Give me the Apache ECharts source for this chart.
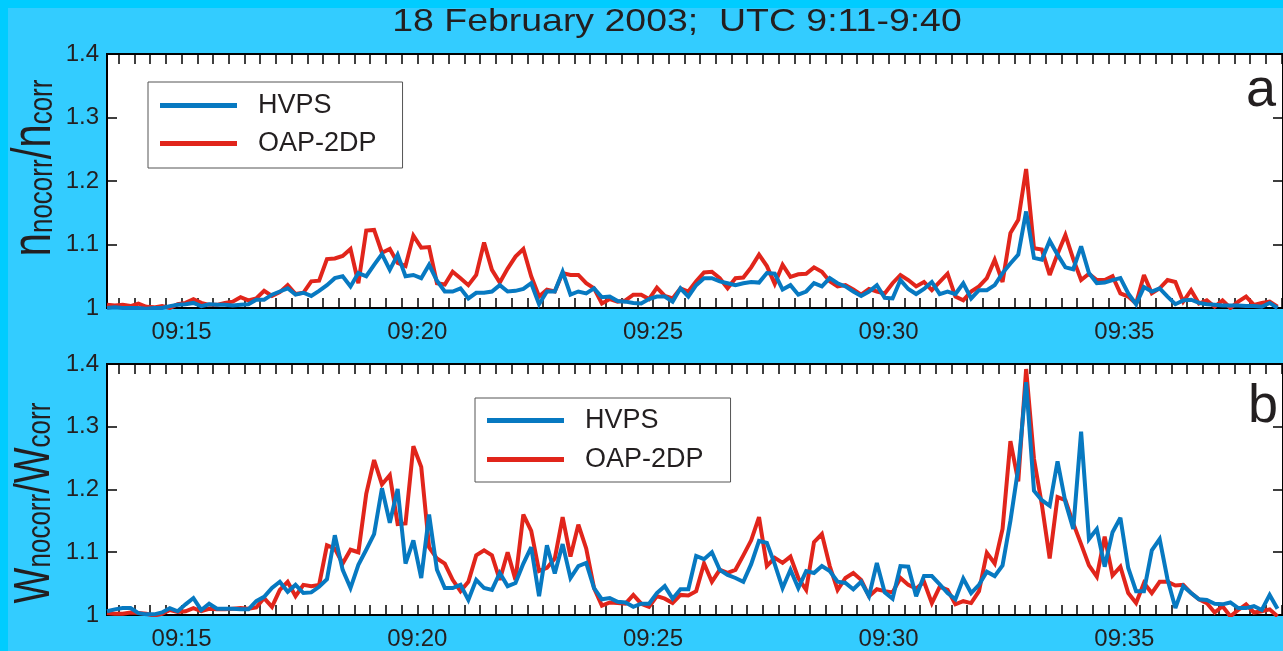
<!DOCTYPE html>
<html>
<head>
<meta charset="utf-8">
<script src="https://cdn.jsdelivr.net/npm/echarts@6/dist/echarts.min.js"></script>
<style>
  html, body { margin: 0; padding: 0; background: #00ccff; overflow: hidden; }
  #chart { position: absolute; left: 8px; top: 8px; width: 1275px; height: 643px; background: #33ccff; }
</style>
</head>
<body>
<div id="chart"></div>
<script>
// Sampling: one value every 10 s, first sample at 09:13:25 (seconds after 09:00)
const startSec = 805;
const stepSec = 10;

// Panel a: number concentration ratio n_nocorr / n_corr
const oapN = [
  1.005, 1.004, 1.005, 1.003, 1.007, 1.002, 1.001, 1.003, 1.000, 1.006,
  1.008, 1.014, 1.008, 1.005, 1.005, 1.008, 1.010, 1.017, 1.012, 1.015,
  1.027, 1.019, 1.025, 1.036, 1.022, 1.024, 1.042, 1.043, 1.077, 1.078,
  1.082, 1.093, 1.039, 1.122, 1.123, 1.087, 1.093, 1.071, 1.066, 1.114,
  1.095, 1.096, 1.039, 1.037, 1.057, 1.047, 1.036, 1.052, 1.103, 1.060,
  1.040, 1.062, 1.081, 1.093, 1.050, 1.018, 1.029, 1.026, 1.055, 1.052,
  1.052, 1.039, 1.031, 1.007, 1.014, 1.010, 1.012, 1.021, 1.021, 1.014,
  1.032, 1.019, 1.015, 1.031, 1.026, 1.042, 1.056, 1.057, 1.047, 1.031,
  1.047, 1.048, 1.064, 1.084, 1.066, 1.038, 1.068, 1.049, 1.053, 1.054,
  1.064, 1.057, 1.042, 1.034, 1.036, 1.029, 1.021, 1.030, 1.026, 1.023,
  1.039, 1.052, 1.044, 1.034, 1.041, 1.028, 1.041, 1.054, 1.018, 1.012,
  1.026, 1.034, 1.047, 1.076, 1.041, 1.118, 1.139, 1.219, 1.094, 1.092,
  1.052, 1.085, 1.115, 1.077, 1.044, 1.054, 1.044, 1.044, 1.050, 1.023,
  1.018, 1.007, 1.052, 1.023, 1.031, 1.044, 1.041, 1.010, 1.028, 1.007,
  1.012, 1.002, 1.012, 1.000, 1.010, 1.018, 1.005, 1.008, 1.010, 1.002
];
const hvpsN = [
  1.000, 1.001, 1.000, 1.000, 1.000, 0.999, 1.000, 1.000, 1.003, 1.005,
  1.006, 1.008, 1.003, 1.006, 1.005, 1.005, 1.004, 1.005, 1.006, 1.013,
  1.013, 1.021, 1.026, 1.031, 1.021, 1.024, 1.019, 1.027, 1.036, 1.047,
  1.050, 1.034, 1.055, 1.050, 1.068, 1.085, 1.060, 1.084, 1.050, 1.052,
  1.047, 1.068, 1.043, 1.026, 1.026, 1.031, 1.015, 1.024, 1.024, 1.026,
  1.036, 1.026, 1.027, 1.030, 1.039, 1.006, 1.026, 1.026, 1.057, 1.021,
  1.026, 1.023, 1.031, 1.017, 1.018, 1.011, 1.010, 1.008, 1.007, 1.014,
  1.018, 1.018, 1.010, 1.031, 1.018, 1.036, 1.047, 1.047, 1.042, 1.039,
  1.036, 1.039, 1.041, 1.040, 1.055, 1.054, 1.029, 1.036, 1.021, 1.026,
  1.039, 1.034, 1.047, 1.039, 1.034, 1.026, 1.019, 1.026, 1.036, 1.016,
  1.015, 1.044, 1.030, 1.022, 1.030, 1.041, 1.022, 1.026, 1.022, 1.039,
  1.015, 1.028, 1.028, 1.036, 1.055, 1.070, 1.084, 1.152, 1.079, 1.076,
  1.106, 1.084, 1.064, 1.061, 1.097, 1.055, 1.039, 1.040, 1.044, 1.047,
  1.023, 1.006, 1.033, 1.026, 1.031, 1.018, 1.006, 1.012, 1.013, 1.008,
  1.006, 1.005, 1.004, 1.004, 1.004, 1.003, 1.003, 1.002, 1.008, 1.000
];

// Panel b: water content ratio W_nocorr / W_corr
const oapW = [
  1.003, 1.002, 1.002, 1.004, 1.003, 1.002, 0.999, 1.002, 1.008, 1.005,
  1.006, 1.011, 1.006, 1.010, 1.009, 1.009, 1.010, 1.011, 1.010, 1.012,
  1.027, 1.013, 1.040, 1.053, 1.030, 1.048, 1.046, 1.048, 1.111, 1.106,
  1.082, 1.104, 1.100, 1.193, 1.247, 1.208, 1.223, 1.145, 1.146, 1.269,
  1.236, 1.108, 1.090, 1.082, 1.056, 1.038, 1.053, 1.095, 1.103, 1.095,
  1.056, 1.100, 1.056, 1.160, 1.134, 1.070, 1.075, 1.090, 1.156, 1.093,
  1.144, 1.106, 1.043, 1.015, 1.020, 1.019, 1.018, 1.032, 1.018, 1.013,
  1.030, 1.026, 1.019, 1.032, 1.031, 1.038, 1.082, 1.053, 1.072, 1.067,
  1.072, 1.095, 1.119, 1.156, 1.078, 1.091, 1.083, 1.093, 1.059, 1.040,
  1.116, 1.129, 1.078, 1.040, 1.059, 1.067, 1.056, 1.030, 1.041, 1.038,
  1.036, 1.059, 1.048, 1.042, 1.053, 1.019, 1.045, 1.040, 1.017, 1.022,
  1.019, 1.038, 1.099, 1.082, 1.137, 1.277, 1.213, 1.392, 1.249, 1.176,
  1.090, 1.188, 1.183, 1.146, 1.113, 1.079, 1.061, 1.125, 1.063, 1.077,
  1.035, 1.019, 1.051, 1.035, 1.053, 1.053, 1.047, 1.048, 1.035, 1.025,
  1.019, 1.004, 1.014, 0.998, 1.008, 1.017, 1.004, 1.006, 1.009, 0.998
];
const hvpsW = [
  1.006, 1.009, 1.011, 1.011, 1.003, 1.001, 1.001, 1.004, 1.011, 1.006,
  1.017, 1.027, 1.008, 1.018, 1.010, 1.010, 1.010, 1.009, 1.009, 1.022,
  1.029, 1.043, 1.053, 1.037, 1.048, 1.035, 1.036, 1.045, 1.057, 1.127,
  1.072, 1.043, 1.080, 1.104, 1.129, 1.202, 1.147, 1.201, 1.082, 1.119,
  1.059, 1.160, 1.072, 1.043, 1.043, 1.048, 1.024, 1.056, 1.043, 1.040,
  1.067, 1.046, 1.051, 1.082, 1.108, 1.030, 1.111, 1.066, 1.113, 1.059,
  1.078, 1.083, 1.043, 1.025, 1.027, 1.021, 1.020, 1.013, 1.018, 1.018,
  1.035, 1.046, 1.026, 1.041, 1.041, 1.094, 1.089, 1.100, 1.072, 1.064,
  1.059, 1.053, 1.081, 1.118, 1.115, 1.081, 1.043, 1.072, 1.043, 1.070,
  1.067, 1.078, 1.070, 1.053, 1.051, 1.041, 1.053, 1.030, 1.083, 1.036,
  1.026, 1.078, 1.077, 1.030, 1.062, 1.062, 1.049, 1.035, 1.025, 1.058,
  1.035, 1.048, 1.069, 1.062, 1.079, 1.150, 1.234, 1.371, 1.198, 1.183,
  1.174, 1.245, 1.180, 1.137, 1.292, 1.121, 1.137, 1.077, 1.132, 1.155,
  1.075, 1.038, 1.038, 1.103, 1.121, 1.057, 1.011, 1.046, 1.035, 1.025,
  1.024, 1.018, 1.017, 1.020, 1.011, 1.011, 1.014, 1.008, 1.032, 1.010
];

// Time axis labels (seconds after 09:00) and their text
const xLabelSeconds = [900, 1200, 1500, 1800, 2100];
const xLabelTexts = ['09:15', '09:20', '09:25', '09:30', '09:35'];
const xMin = 805, xMax = 2302;
const minorTickStep = 20;

const seriesNames = ['HVPS', 'OAP-2DP'];
const titleText = '18 February 2003;  UTC 9:11-9:40';

const FONT = "'Liberation Sans', Arial, Helvetica, sans-serif";
const INK = '#231f20';
const BLUE = '#0779c1';
const RED = '#e1251b';

const toPairs = arr => arr.map((v, i) => [startSec + i * stepSec, v]);
const minorTicks = [];
for (let s = Math.ceil(xMin / minorTickStep) * minorTickStep; s <= xMax; s += minorTickStep) minorTicks.push(s);

const grids = [
  { left: 99, top: 46, width: 1183, height: 254 },
  { left: 99, top: 356, width: 1183, height: 255 }
];

function xAxes(gi) {
  const tick = { show: true, inside: true, length: 10, customValues: minorTicks,
                 lineStyle: { color: '#000', width: 1.5 } };
  return [
    { type: 'value', gridIndex: gi, position: 'bottom', min: xMin, max: xMax,
      axisLine: { show: false }, splitLine: { show: false }, axisTick: tick,
      axisLabel: { customValues: xLabelSeconds, fontSize: 24, color: INK, fontFamily: FONT, margin: 12,
                   formatter: v => xLabelTexts[xLabelSeconds.indexOf(v)] || '' } },
    { type: 'value', gridIndex: gi, position: 'top', min: xMin, max: xMax,
      axisLine: { show: false }, splitLine: { show: false }, axisTick: tick,
      axisLabel: { show: false } }
  ];
}
function yAxes(gi) {
  const tick = { show: true, inside: true, length: 10, lineStyle: { color: '#000', width: 1.5 } };
  return [
    { type: 'value', gridIndex: gi, position: 'left', min: 1, max: 1.4, interval: 0.1,
      axisLine: { show: false }, splitLine: { show: false }, axisTick: tick,
      axisLabel: { fontSize: 24, color: INK, fontFamily: FONT, margin: 8,
                   formatter: v => (Math.abs(v - 1) < 1e-9 ? '1' : v.toFixed(1)) } },
    { type: 'value', gridIndex: gi, position: 'right', min: 1, max: 1.4, interval: 0.1,
      axisLine: { show: false }, splitLine: { show: false }, axisTick: tick,
      axisLabel: { show: false } }
  ];
}
function lineSeries(name, data, color, gi) {
  return {
    name, type: 'line', xAxisIndex: gi * 2, yAxisIndex: gi * 2,
    data: toPairs(data), showSymbol: false, symbol: 'none',
    itemStyle: { color }, lineStyle: { color, width: 4, join: 'miter', miterLimit: 3 },
    emphasis: { disabled: true }
  };
}
function legendBox(left, top, padding, gap) {
  return {
    data: seriesNames, orient: 'vertical', left, top, padding, itemGap: gap,
    itemWidth: 77, itemHeight: 5, icon: 'rect', selectedMode: false,
    backgroundColor: '#fff', borderColor: '#555', borderWidth: 1, borderRadius: 0,
    textStyle: { fontSize: 27, lineHeight: 27, color: INK, fontFamily: FONT, padding: [0, 0, 0, 16] }
  };
}
function axisTitle(x, y, main1, sub1, main2, sub2, mainSize) {
  return {
    type: 'text', x, y, rotation: Math.PI / 2, scaleY: 1.3, z: 10,
    style: {
      text: `{m|${main1}}{s|${sub1}}{m|${main2}}{s|${sub2}}`,
      align: 'center', verticalAlign: 'middle',
      rich: {
        m: { fontSize: mainSize, fontFamily: FONT, fill: INK, verticalAlign: 'bottom' },
        s: { fontSize: 26, fontFamily: FONT, fill: INK, verticalAlign: 'bottom', padding: [0, 0, 2, 0] }
      }
    }
  };
}

const chart = echarts.init(document.getElementById('chart'), null, { renderer: 'canvas' });
chart.setOption({
  animation: false,
  grid: grids.map(g => Object.assign({ show: true, backgroundColor: '#fff', borderColor: '#000', borderWidth: 2 }, g)),
  xAxis: [...xAxes(0), ...xAxes(1)],
  yAxis: [...yAxes(0), ...yAxes(1)],
  legend: [
    legendBox(140, 74, [10, 26, 11, 12], 11),
    legendBox(467, 390, [9, 27, 9, 12], 12)
  ],
  series: [
    lineSeries('OAP-2DP', oapN, RED, 0),
    lineSeries('HVPS', hvpsN, BLUE, 0),
    lineSeries('OAP-2DP', oapW, RED, 1),
    lineSeries('HVPS', hvpsW, BLUE, 1)
  ],
  graphic: [
    { type: 'text', x: 669, y: 14, scaleX: 1.17, z: 10,
      style: { text: titleText, fontSize: 32, fontFamily: FONT, fill: INK, align: 'center', verticalAlign: 'middle' } },
    { type: 'text', x: 1238, y: 56, z: 10,
      style: { text: 'a', fontSize: 54, fontFamily: FONT, fill: INK, align: 'left', verticalAlign: 'top' } },
    { type: 'text', x: 1240, y: 372, z: 10,
      style: { text: 'b', fontSize: 54, fontFamily: FONT, fill: INK, align: 'left', verticalAlign: 'top' } },
    axisTitle(27, 160, 'n', 'nocorr', '/n', 'corr', 42),
    axisTitle(27, 495, 'W', 'nocorr', '/W', 'corr', 38)
  ]
});
</script>
</body>
</html>
